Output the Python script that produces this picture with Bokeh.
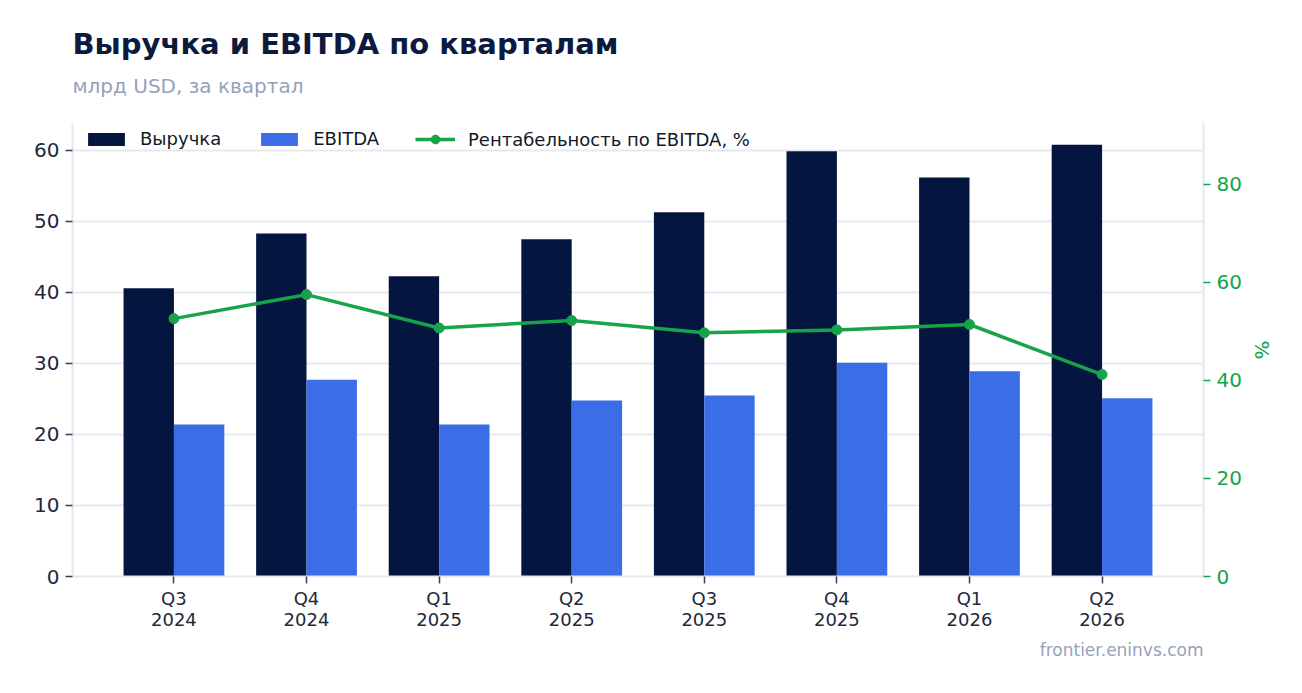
from bokeh.plotting import figure
from bokeh.layouts import column
from bokeh.models import (ColumnDataSource, Range1d, LinearAxis, FixedTicker,
                          Legend, LegendItem, Title)
from bokeh.core.properties import value
from bokeh.embed import file_html
from bokeh.resources import INLINE

title_text = "Выручка и EBITDA по кварталам"
subtitle_text = "млрд USD, за квартал"
source_text = "frontier.eninvs.com"

quarters = ["Q3\n2024", "Q4\n2024", "Q1\n2025", "Q2\n2025",
            "Q3\n2025", "Q4\n2025", "Q1\n2026", "Q2\n2026"]
revenue = [40.6, 48.3, 42.3, 47.5, 51.3, 59.9, 56.2, 60.8]
ebitda = [21.4, 27.7, 21.4, 24.8, 25.5, 30.1, 28.9, 25.1]
margin = [52.6, 57.5, 50.7, 52.2, 49.7, 50.3, 51.4, 41.2]

FONT = "DejaVu Sans"
NAVY = "#041640"
BLUE = "#3b6de7"
GREEN = "#16a34a"
GRID = "#e5e9f0"
MUTED = "#94a3b8"

W = 1294
HEAD_H = 113
BL, BR = 72, 91

# ---- header (title + subtitle) ----
head = figure(width=W, height=HEAD_H, output_backend="svg", toolbar_location=None,
              x_range=Range1d(BL, W - BR), y_range=Range1d(HEAD_H, 0),
              x_axis_type=None, y_axis_type=None,
              min_border_left=BL, min_border_right=BR,
              min_border_top=0, min_border_bottom=0)
head.grid.visible = False
head.outline_line_color = None
head.background_fill_color = "white"
head.border_fill_color = "white"
head.text(x=[BL], y=[43], text=[title_text], text_font=value(FONT),
          text_font_size="29px", text_font_style="bold", text_color="#0b1a3d",
          text_baseline="alphabetic", text_align="left")
head.text(x=[BL], y=[85], text=[subtitle_text], text_font=value(FONT),
          text_font_size="20px", text_color=MUTED,
          text_baseline="alphabetic", text_align="left")

# ---- main chart ----
idx = list(range(len(quarters)))
src = ColumnDataSource(dict(
    x=idx,
    x_rev=[i - 0.19 for i in idx],
    x_ebt=[i + 0.19 for i in idx],
    revenue=revenue, ebitda=ebitda, margin=margin))

p = figure(width=W, height=685 - HEAD_H, output_backend="svg", toolbar_location=None,
           x_range=Range1d(-0.765, 7.765), y_range=Range1d(0, 63.8),
           min_border_left=BL, min_border_right=BR,
           min_border_top=123 - HEAD_H, min_border_bottom=109)
p.outline_line_color = None
p.background_fill_color = "white"
p.border_fill_color = "white"
p.extra_y_ranges = {"pct": Range1d(0, 92.4)}

r_rev = p.vbar(x="x_rev", top="revenue", width=0.38, source=src,
               fill_color=NAVY, line_color=None)
r_ebt = p.vbar(x="x_ebt", top="ebitda", width=0.38, source=src,
               fill_color=BLUE, line_color=None)
r_line = p.line(x="x", y="margin", source=src, y_range_name="pct",
                line_color=GREEN, line_width=3.5)
r_pts = p.scatter(x="x", y="margin", source=src, y_range_name="pct",
                  size=10, fill_color=GREEN, line_color=GREEN)

# x axis
xa = p.xaxis[0]
xa.ticker = FixedTicker(ticks=idx)
xa.major_label_overrides = {i: q for i, q in zip(idx, quarters)}
xa.major_label_text_font = FONT
xa.major_label_text_font_size = "18px"
xa.major_label_text_line_height = 1.0
xa.major_label_text_color = "#1e293b"
xa.axis_line_color = "#e2e8f0"
xa.axis_line_width = 2
xa.major_tick_line_color = "#334155"
xa.major_tick_line_width = 1.5
xa.major_tick_in = 0
xa.major_tick_out = 7
xa.minor_tick_line_color = None
xa.major_label_standoff = 4

# left axis
ya = p.yaxis[0]
ya.ticker = FixedTicker(ticks=[0, 10, 20, 30, 40, 50, 60])
ya.major_label_text_font = FONT
ya.major_label_text_font_size = "20px"
ya.major_label_text_color = "#1e293b"
ya.axis_line_color = "#e2e8f0"
ya.axis_line_width = 2
ya.major_tick_line_color = "#334155"
ya.major_tick_line_width = 1.5
ya.major_tick_in = 0
ya.major_tick_out = 7
ya.minor_tick_line_color = None
ya.major_label_standoff = 6

# right axis
ra = LinearAxis(y_range_name="pct", ticker=FixedTicker(ticks=[0, 20, 40, 60, 80]),
                axis_label="%")
ra.major_label_text_font = FONT
ra.major_label_text_font_size = "20px"
ra.major_label_text_color = GREEN
ra.axis_label_text_font = FONT
ra.axis_label_text_font_size = "20px"
ra.axis_label_text_font_style = "normal"
ra.axis_label_text_color = GREEN
ra.axis_label_standoff = 5
ra.axis_line_color = "#e2e8f0"
ra.axis_line_width = 2
ra.major_tick_line_color = GREEN
ra.major_tick_line_width = 1.5
ra.major_tick_in = 0
ra.major_tick_out = 7
ra.minor_tick_line_color = None
ra.major_label_standoff = 6
p.add_layout(ra, "right")

p.xgrid.grid_line_color = None
p.ygrid.grid_line_color = GRID
p.ygrid.grid_line_width = 2


def style_legend(lg):
    lg.margin = 0
    lg.padding = 6
    lg.label_text_font = FONT
    lg.label_text_font_size = "18px"
    lg.label_text_color = "#111827"
    lg.border_line_color = None
    lg.background_fill_alpha = 0


legend = Legend(items=[
    LegendItem(label="Выручка", renderers=[r_rev]),
    LegendItem(label="EBITDA", renderers=[r_ebt]),
], orientation="horizontal")
style_legend(legend)
legend.glyph_width = 46
legend.glyph_height = 16
legend.label_standoff = 11
legend.spacing = 35
p.add_layout(legend, "center")
legend.location = (11, 427)

legend2 = Legend(items=[
    LegendItem(label="Рентабельность по EBITDA, %", renderers=[r_line, r_pts]),
], orientation="horizontal")
style_legend(legend2)
legend2.glyph_width = 40
legend2.glyph_height = 22
legend2.label_standoff = 13
p.add_layout(legend2, "center")
legend2.location = (343, 426)

srcnote = Title(text=source_text, text_font=FONT, text_font_size="17px",
                text_color=MUTED, text_font_style="normal", align="right", standoff=10)
p.add_layout(srcnote, "below")

layout = column(head, p, spacing=0)
open("out.html", "w").write(file_html(layout, INLINE))
